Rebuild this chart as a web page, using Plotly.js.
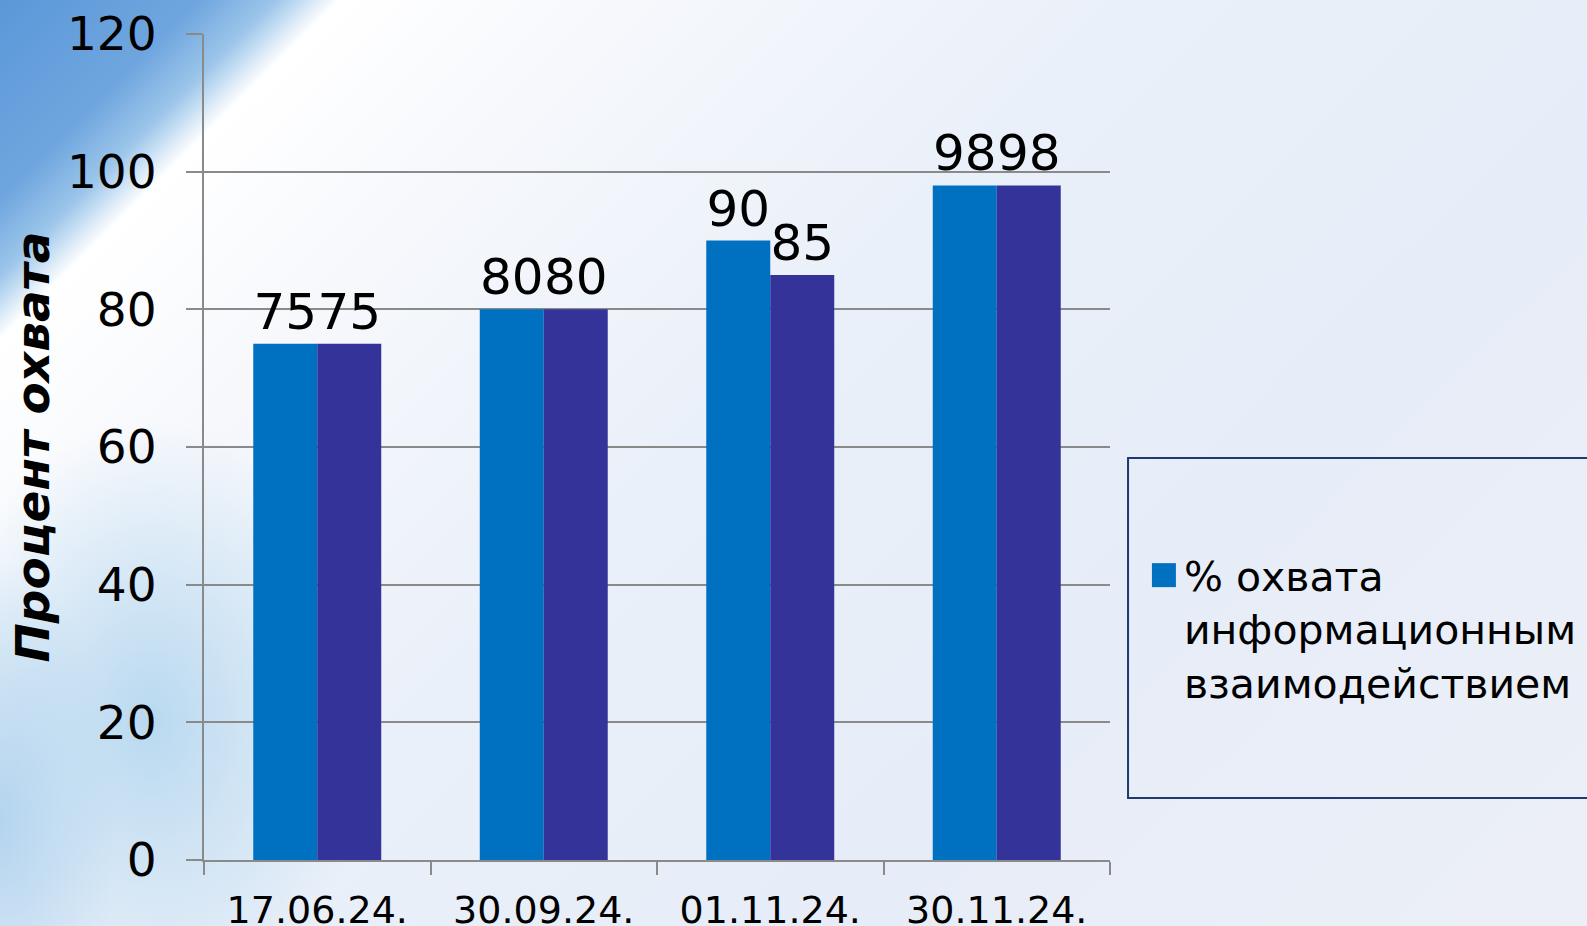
<!DOCTYPE html>
<html>
<head>
<meta charset="utf-8">
<script src="https://cdn.plot.ly/plotly-3.0.1.min.js"></script>
<style>
  html, body { margin: 0; padding: 0; width: 1587px; height: 926px; overflow: hidden; }
  body {
    background:
      radial-gradient(ellipse 220px 300px at 150px 720px, rgba(175,212,238,0.85), rgba(175,212,238,0) 100%),
      radial-gradient(ellipse 120px 260px at 0px 820px, rgba(140,190,230,0.6), rgba(140,190,230,0) 100%),
      linear-gradient(135deg, #5b97d8 0%, #6fa6df 8%, #9cc6ea 11%, #ffffff 13.5%, #f6f8fc 25%, #eaf0f9 45%, #e7edf8 70%, #eceff7 100%);
  }
  #chart { width: 1587px; height: 926px; }
</style>
</head>
<body>
<div id="chart"></div>
<script>
const categories = ['17.06.24.', '30.09.24.', '01.11.24.', '30.11.24.'];
const series1Name = '% охвата<br>информационным<br>взаимодействием';
const series1Values = [75, 80, 90, 98];
const series2Name = 'Ряд 2';
const series2Values = [75, 80, 85, 98];
const yTickValues = [0, 20, 40, 60, 80, 100, 120];
const yTitle = 'Процент охвата';

const FONT = 'DejaVu Sans, Verdana, sans-serif';

const traces = [
  {
    type: 'bar', name: series1Name, x: categories, y: series1Values,
    marker: { color: '#0070C0' },
    text: series1Values.map(String), textposition: 'outside', cliponaxis: false,
    constraintext: 'none',
    textfont: { family: FONT, size: 50, color: '#000000' },
    hoverinfo: 'x+y', showlegend: true
  },
  {
    type: 'bar', name: series2Name, x: categories, y: series2Values,
    marker: { color: '#343399' },
    text: series2Values.map(String), textposition: 'outside', cliponaxis: false,
    constraintext: 'none',
    textfont: { family: FONT, size: 50, color: '#000000' },
    hoverinfo: 'x+y', showlegend: false
  }
];

const layout = {
  width: 1587, height: 926,
  paper_bgcolor: 'rgba(0,0,0,0)', plot_bgcolor: 'rgba(0,0,0,0)',
  margin: { l: 204, r: 477, t: 34, b: 66, pad: 0, autoexpand: false },
  barmode: 'group', bargap: 0.435, bargroupgap: 0,
  font: { family: FONT, color: '#000000' },
  xaxis: {
    type: 'category', showline: true, linecolor: '#8a8a8a', linewidth: 2,
    ticks: 'outside', tickson: 'boundaries', ticklen: 13, tickwidth: 2, tickcolor: '#8a8a8a',
    tickfont: { family: FONT, size: 38, color: '#000000' },
    ticklabelstandoff: 15,
    showgrid: false, zeroline: false, automargin: false
  },
  yaxis: {
    range: [0, 120], tickvals: yTickValues, ticktext: yTickValues.map(String),
    showline: true, linecolor: '#8a8a8a', linewidth: 2,
    ticks: 'outside', ticklen: 16, tickwidth: 2, tickcolor: '#8a8a8a',
    tickfont: { family: FONT, size: 47, color: '#000000' },
    ticklabelstandoff: 20,
    showgrid: true, gridcolor: '#8a8a8a', gridwidth: 2, zeroline: false,
    automargin: false,
    title: { text: yTitle, standoff: 2,
      font: { family: FONT, size: 47, color: '#000000', weight: 'bold', style: 'italic' } }
  },
  legend: {
    xref: 'container', yref: 'container',
    x: 0.7208, xanchor: 'left', y: 0.4147, yanchor: 'top', valign: 'top',
    bgcolor: 'rgba(0,0,0,0)', borderwidth: 0,
    font: { family: FONT, size: 41, color: '#000000' }
  },
  shapes: [
    { type: 'rect', xref: 'paper', yref: 'paper', x0: 1.0199, x1: 1.56, y0: 0.075, y1: 0.4867,
      line: { color: '#1F3A6E', width: 2 }, fillcolor: 'rgba(0,0,0,0)' }
  ],
  showlegend: true
};

Plotly.newPlot('chart', traces, layout, { displayModeBar: false, staticPlot: true }).then(function (gd) {
  // enlarge the legend swatch to match the reference's larger square
  gd.querySelectorAll('.legend .legendpoints path').forEach(function (p) {
    const t = p.getAttribute('transform') || '';
    p.setAttribute('transform', t + ' scale(2)');
  });
});
</script>
</body>
</html>
